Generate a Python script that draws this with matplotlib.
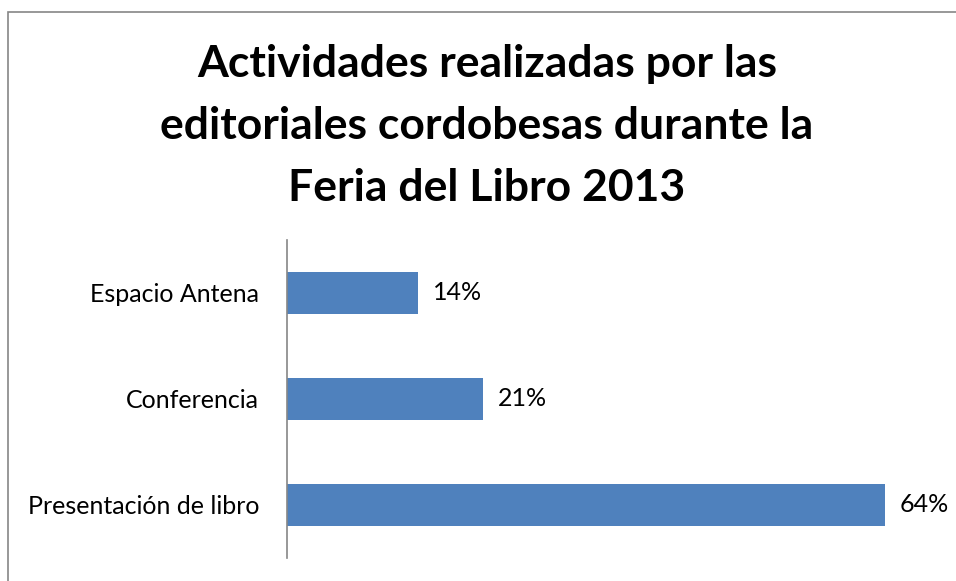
import matplotlib.pyplot as plt
from matplotlib.patches import Rectangle

categories = ['Presentación de libro', 'Conferencia', 'Espacio Antena']
values = [0.64, 0.21, 0.14]
labels = ['64%', '21%', '14%']
title = 'Actividades realizadas por las\neditoriales cordobesas durante la\nFeria del Libro 2013'

plt.rcParams['font.family'] = ['Lato', 'DejaVu Sans']

W, H = 956, 581
fig = plt.figure(figsize=(W / 100, H / 100), dpi=100)

# chart area border (runs off right and bottom of the image)
fig.add_artist(Rectangle((7.5 / W, -0.1), 1.2, 1.1 - 12.5 / H,
                         transform=fig.transFigure, fill=False,
                         edgecolor='#868686', linewidth=1.2))

ax = fig.add_axes([287 / W, 23 / H, 654 / W, 318 / H])
y = list(range(len(categories)))
ax.barh(y, values, height=0.4, color='#4F81BD')
for yi, v, lab in zip(y, values, labels):
    ax.text(v + 0.016, yi, lab, va='center', ha='left', fontsize=18)

ax.set_xlim(0, 0.70)
ax.set_ylim(-0.5, 2.5)
ax.set_yticks(y)
ax.set_yticklabels(categories, fontsize=18)
ax.tick_params(axis='y', length=0, pad=20)
ax.set_xticks([])
for s in ['top', 'right', 'bottom']:
    ax.spines[s].set_visible(False)
ax.spines['left'].set_color('#868686')
ax.spines['left'].set_linewidth(1.2)

fig.text(487 / W, 1 - 44 / H, title, ha='center', va='top',
         fontsize=32, fontweight='bold', linespacing=1.66)

fig.savefig('out.png', dpi=100)
